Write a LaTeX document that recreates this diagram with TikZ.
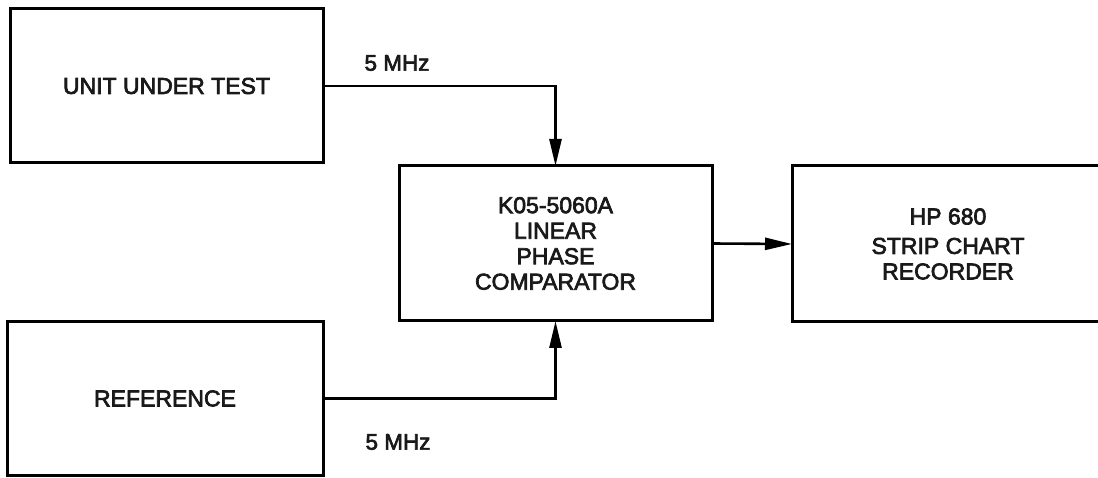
\documentclass[tikz,border=0pt]{standalone}
\usepackage{fontspec}
\setmainfont{Liberation Sans}
\newfontfamily\heavyfont{Liberation Sans}[FakeBold=3]
\usetikzlibrary{arrows.meta}
\begin{document}
\begin{tikzpicture}[x=1pt,y=-1pt,
  blk/.style={draw=black, line width=3pt, inner sep=0pt, outer sep=0pt, align=center,
    font=\heavyfont\fontsize{23}{25.5}\selectfont, text=black!90},
  conn/.style={draw=black, line width=2.6pt},
  arr/.style={conn, -{Triangle[length=27pt,width=12pt]}},
  freq/.style={inner sep=0pt, font=\heavyfont\fontsize{22.5}{24}\selectfont, text=black!90}]
\useasboundingbox (0,0) rectangle (1098,478);
\node[blk, minimum width=313pt, minimum height=154pt] (uut) at (166.5,86) {UNIT UNDER TEST};
\node[blk, minimum width=316pt, minimum height=153pt] (ref) at (165,398.5) {REFERENCE};
\node[blk, minimum width=313pt, minimum height=155pt] (cmp) at (555.5,243.5) {K05-5060A\\LINEAR\\PHASE\\COMPARATOR};
\node[blk, minimum width=312pt, minimum height=156pt] (rec) at (948,244) {HP 680\\[4pt]STRIP CHART\\RECORDER};
\node[freq] (f1) at (397,63) {5 MHz};
\node[freq] (f2) at (398,442) {5 MHz};
\draw[arr] (uut.east) -| (cmp.north);
\draw[arr] (ref.east) -| (cmp.south);
\draw[arr] (cmp.east) -- (rec.west);
\end{tikzpicture}
\end{document}
